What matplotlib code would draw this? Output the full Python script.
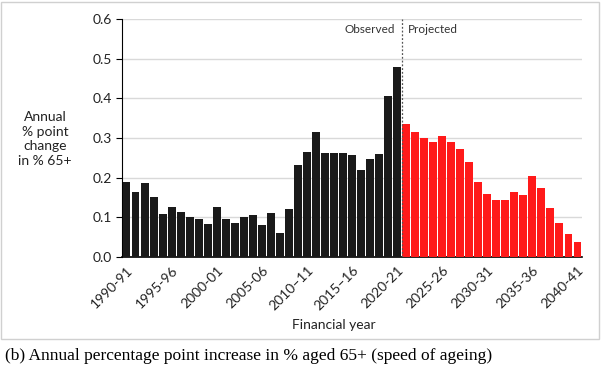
import matplotlib.pyplot as plt
from matplotlib.patches import Rectangle

# DATA
observed_years = [f"{y}-{str(y + 1)[-2:]}" for y in range(1990, 2021)]
projected_years = [f"{y}-{str(y + 1)[-2:]}" for y in range(2021, 2041)]

observed_values = [
    0.189, 0.165, 0.186, 0.151, 0.109, 0.125, 0.113, 0.100, 0.095, 0.082,
    0.125, 0.095, 0.085, 0.102, 0.105, 0.080, 0.110, 0.061, 0.122, 0.231,
    0.264, 0.314, 0.261, 0.263, 0.261, 0.257, 0.220, 0.247, 0.259, 0.405,
    0.479,
]
projected_values = [
    0.336, 0.315, 0.299, 0.290, 0.304, 0.289, 0.273, 0.239, 0.189, 0.158,
    0.143, 0.143, 0.163, 0.157, 0.205, 0.173, 0.123, 0.085, 0.058, 0.037,
]

tick_labels = ["1990-91", "1995-96", "2000-01", "2005-06", "2010\u201311",
               "2015\u201316", "2020-21", "2025-26", "2030-31", "2035-36", "2040-41"]
y_ticks = [0.0, 0.1, 0.2, 0.3, 0.4, 0.5, 0.6]

# FONTS
plt.rcParams['font.family'] = ['Lato', 'DejaVu Sans']

fig = plt.figure(figsize=(6.02, 3.72), dpi=100)
ax = fig.add_axes([122 / 602, 1 - 257 / 372, 460 / 602, 238 / 372])

all_years = observed_years + projected_years
x_obs = list(range(len(observed_values)))
x_proj = list(range(len(observed_values), len(all_years)))

ax.bar(x_obs, observed_values, width=0.88, color='#1a1a1a', zorder=3)
ax.bar(x_proj, projected_values, width=0.88, color='#ff1a1a', zorder=3)

# BOUNDARY BETWEEN OBSERVED AND PROJECTED
split = len(observed_values) - 0.5
ax.plot([split, split], [0, 0.6], color='#555555', linestyle=(0, (1.5, 1.5)), lw=0.9, zorder=4)
ax.text(split - 0.7, 0.573, "Observed", ha='right', va='center', fontsize=8.5, color='#333333')
ax.text(split + 0.7, 0.573, "Projected", ha='left', va='center', fontsize=8.5, color='#333333')

ax.set_xlim(-0.5, len(all_years) - 0.5)
ax.set_ylim(0, 0.6)
ax.set_yticks(y_ticks)
ax.set_yticklabels([f"{v:.1f}" for v in y_ticks], fontsize=10, color='#222222')
ax.grid(axis='y', color='#d9d9d9', lw=1.0, zorder=0)
ax.set_axisbelow(True)

tick_pos = [all_years.index(lbl.replace("\u2013", "-")) for lbl in tick_labels]
ax.set_xticks(tick_pos)
ax.set_xticklabels(tick_labels, rotation=45, ha='right', rotation_mode='anchor', fontsize=10, color='#222222')
ax.tick_params(axis='x', length=0, pad=5)
ax.tick_params(axis='y', length=4, width=0.8, pad=3)

for side in ['top', 'right']:
    ax.spines[side].set_visible(False)
ax.spines['left'].set_color('black')
ax.spines['bottom'].set_color('black')
ax.spines['bottom'].set_linewidth(1.2)

fig.text(45 / 602, 1 - 139 / 372, "Annual\n% point\nchange\nin % 65+", ha='center', va='center',
         fontsize=10, linespacing=1.25, color='#222222')
fig.text(334 / 602, 1 - 325 / 372, "Financial year", ha='center', va='center', fontsize=10, color='#222222')

# FRAME AROUND THE CHART AND CAPTION BELOW
fig.add_artist(Rectangle((1 / 602, 1 - 339 / 372), 598 / 602, 337 / 372, transform=fig.transFigure,
                         fill=False, edgecolor='#d0d0d0', lw=1.0))
fig.text(5 / 602, 1 - 356 / 372, "(b) Annual percentage point increase in % aged 65+ (speed of ageing)",
         ha='left', va='center', fontsize=12.5, family=['Liberation Serif', 'DejaVu Serif'], color='black')

fig.savefig("out.png", dpi=100)
